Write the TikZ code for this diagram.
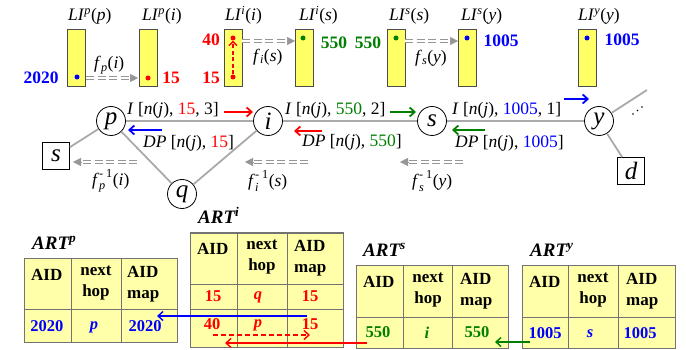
\documentclass[tikz,border=0pt]{standalone}
\usepackage{fontspec}
\setmainfont{Liberation Serif}
\usetikzlibrary{arrows.meta}
\definecolor{barY}{RGB}{255,255,102}
\definecolor{tabY}{RGB}{255,255,170}
\definecolor{myred}{RGB}{255,0,0}
\definecolor{mygreen}{RGB}{0,128,0}
\definecolor{myblue}{RGB}{0,0,255}
\definecolor{edgegray}{RGB}{170,170,170}
\definecolor{dgray}{RGB}{150,150,150}
\newcommand{\LIlab}[2]{\textit{LI}\textsuperscript{\textit{#1}}(\textit{#2})}
\newcommand{\flab}[2]{\textit{f}\textsubscript{\textit{#1}}(\textit{#2})}
\newcommand{\finv}[2]{\textit{f}\rlap{\raisebox{-2pt}{\textsubscript{\textit{#1}}}}\raisebox{1.5pt}{\textsuperscript{- 1}}(\textit{#2})}
\newcommand{\nj}{[\textit{n}(\textit{j}),}
\tikzset{
 bar/.style={draw=black!70, fill=barY, minimum width=18pt, minimum height=57pt, inner sep=0pt, line width=0.8pt},
 dotc/.style={circle, inner sep=0pt, minimum size=5pt},
 lbl/.style={font=\fontsize{17.5}{19}\selectfont, inner sep=0pt},
 num/.style={font=\bfseries\fontsize{17.5}{20}\selectfont, inner sep=0pt},
 vtx/.style={circle, draw, line width=0.8pt, minimum size=29pt, inner sep=0pt, font=\itshape\fontsize{25}{26}\selectfont, fill=white},
 sqr/.style={draw, line width=0.8pt, minimum size=27pt, inner sep=0pt, font=\itshape\fontsize{25}{26}\selectfont, fill=white},
 edge/.style={draw=edgegray, line width=1.8pt},
 msg/.style={line width=1.8pt, -{Straight Barb[length=5pt,width=9pt]}},
 gd/.style={draw=dgray, line width=1.1pt, dash pattern=on 8pt off 3.5pt, double=white, double distance=1.6pt},
 gtip/.style={draw=dgray, line width=0.5pt, -{Triangle[length=8pt,width=8pt]}},
 tab/.style={draw=black!55, fill=tabY, line width=1pt},
 tabl/.style={draw=black!55, line width=1pt},
 th/.style={font=\bfseries\fontsize{17}{21}\selectfont, inner sep=0pt},
 td/.style={font=\bfseries\fontsize{16.5}{18}\selectfont, inner sep=0pt},
 tdi/.style={font=\bfseries\itshape\fontsize{16.5}{18}\selectfont, inner sep=0pt},
 tlab/.style={font=\bfseries\itshape\fontsize{19}{20}\selectfont, inner sep=0pt, anchor=base west},
 tarr/.style={line width=1.4pt, -{Straight Barb[length=5pt,width=9pt]}}
}
\begin{document}
\begin{tikzpicture}[x=1pt,y=-1pt]
\useasboundingbox (0,0) rectangle (686,350);

% ---------- top bars ----------
\node[bar] (b1) at (76.5,57.5) {};
\node[bar] (b2) at (148,57.5) {};
\node[bar] (b3) at (233,57.5) {};
\node[bar] (b4) at (304,57.5) {};
\node[bar] (b5) at (396,57.5) {};
\node[bar] (b6) at (467,57.5) {};
\node[bar] (b7) at (587,57.5) {};

\node[lbl, anchor=base west] (l1) at (68,21) {\LIlab{p}{p}};
\node[lbl, anchor=base west] (l2) at (142,21) {\LIlab{p}{i}};
\node[lbl, anchor=base west] (l3) at (225,21) {\LIlab{i}{i}};
\node[lbl, anchor=base west] (l4) at (299,21) {\LIlab{i}{s}};
\node[lbl, anchor=base west] (l5) at (389,21) {\LIlab{s}{s}};
\node[lbl, anchor=base west] (l6) at (461,21) {\LIlab{s}{y}};
\node[lbl, anchor=base west] (l7) at (578,21) {\LIlab{y}{y}};

\node[dotc, fill=myblue] (d1) at (77,77) {};
\node[dotc, fill=myred] (d2) at (148,78) {};
\node[dotc, fill=myred] (d3a) at (233,38) {};
\node[dotc, fill=myred] (d3b) at (233,77) {};
\node[dotc, fill=mygreen] (d4) at (303,38) {};
\node[dotc, fill=mygreen] (d5) at (396,38) {};
\node[dotc, fill=myblue] (d6) at (467,38) {};
\node[dotc, fill=myblue] (d7) at (587,38) {};

\node[num, text=myblue] (n1) at (41,78) {2020};
\node[num, text=myred] (n2) at (171,78) {15};
\node[num, text=myred] (n3a) at (211,40) {40};
\node[num, text=myred] (n3b) at (211,78) {15};
\node[num, text=mygreen] (n4) at (334,43) {550};
\node[num, text=mygreen] (n5) at (368,43) {550};
\node[num, text=myblue] (n6) at (501,41) {1005};
\node[num, text=myblue] (n7) at (622,40) {1005};

\draw[myred, line width=1.4pt, dash pattern=on 4pt off 2.5pt, -{Straight Barb[length=4pt,width=8pt]}] (d3b) -- (d3a);

% gray double dashed arrows (top)
\coordinate (g1a) at (86,78); \coordinate (g1b) at (138,78);
\coordinate (g2a) at (242,41); \coordinate (g2b) at (295,41);
\coordinate (g3a) at (405,41); \coordinate (g3b) at (458,41);
\draw[gd] (g1a) -- ([xshift=-7pt]g1b);
\draw[gtip] ([xshift=-8.5pt]g1b) -- (g1b);
\draw[gd] (g2a) -- ([xshift=-7pt]g2b);
\draw[gtip] ([xshift=-8.5pt]g2b) -- (g2b);
\draw[gd] (g3a) -- ([xshift=-7pt]g3b);
\draw[gtip] ([xshift=-8.5pt]g3b) -- (g3b);
\node[lbl, anchor=west] (f1) at (94,65) {\flab{p}{i}};
\node[lbl, anchor=west] (f2) at (253,57) {\flab{i}{s}};
\node[lbl, anchor=west] (f3) at (415,58) {\flab{s}{y}};

% ---------- graph ----------
\coordinate (ur) at (647,90);
\node[vtx] (p) at (111,121) {p};
\node[vtx] (i) at (268,121) {i};
\node[vtx] (s) at (432,121) {s};
\node[vtx] (y) at (599,121) {y};
\node[vtx] (q) at (182,194) {q};
\node[sqr] (src) at (56,156) {s};
\node[sqr] (d) at (631,171) {d};
\draw[edge] (src) -- (p);
\draw[edge] (p) -- (i);
\draw[edge] (i) -- (s);
\draw[edge] (s) -- (y);
\draw[edge] (p) -- (q);
\draw[edge] (q) -- (i);
\draw[edge] (y) -- (d);
\draw[edge] (y) -- (ur);
\fill (633,114) circle (0.9pt) (637.5,110.5) circle (0.9pt) (642,107) circle (0.9pt);

% message labels
\node[lbl, anchor=west] (m1) at (127,110) {\textit{I} \nj{} \textcolor{myred}{15}, 3]};
\node[lbl, anchor=west] (m2) at (143,143) {\textit{DP} \nj{} \textcolor{myred}{15}]};
\node[lbl, anchor=west] (m3) at (285,110) {\textit{I} \nj{} \textcolor{mygreen}{550}, 2]};
\node[lbl, anchor=west] (m4) at (302,142) {\textit{DP} \nj{} \textcolor{mygreen}{550}]};
\node[lbl, anchor=west] (m5) at (452,110) {\textit{I} \nj{} \textcolor{myblue}{1005}, 1]};
\node[lbl, anchor=west] (m6) at (455,143) {\textit{DP} \nj{} \textcolor{myblue}{1005}]};

\coordinate (r1a) at (224,112); \coordinate (r1b) at (253,112);
\coordinate (u1a) at (162,130); \coordinate (u1b) at (128,130);
\coordinate (e1a) at (390,112); \coordinate (e1b) at (416,112);
\coordinate (r2a) at (322,131); \coordinate (r2b) at (294,131);
\coordinate (u2a) at (564,99); \coordinate (u2b) at (589,99);
\coordinate (e2a) at (485,130); \coordinate (e2b) at (452,130);
\draw[msg, myred] (r1a) -- (r1b);
\draw[msg, myblue] (u1a) -- (u1b);
\draw[msg, mygreen] (e1a) -- (e1b);
\draw[msg, myred] (r2a) -- (r2b);
\draw[msg, myblue] (u2a) -- (u2b);
\draw[msg, mygreen] (e2a) -- (e2b);

% gray inverse arrows
\coordinate (h1a) at (137,162); \coordinate (h1b) at (73,162);
\coordinate (h2a) at (308,162); \coordinate (h2b) at (245,162);
\coordinate (h3a) at (463,162); \coordinate (h3b) at (400,162);
\draw[gd] (h1a) -- ([xshift=7pt]h1b);
\draw[gtip] ([xshift=8.5pt]h1b) -- (h1b);
\draw[gd] (h2a) -- ([xshift=7pt]h2b);
\draw[gtip] ([xshift=8.5pt]h2b) -- (h2b);
\draw[gd] (h3a) -- ([xshift=7pt]h3b);
\draw[gtip] ([xshift=8.5pt]h3b) -- (h3b);
\node[lbl, anchor=west] (fi1) at (92,181) {\finv{p}{i}};
\node[lbl, anchor=west] (fi2) at (248,181) {\finv{i}{s}};
\node[lbl, anchor=west] (fi3) at (412,181) {\finv{s}{y}};

% ---------- tables ----------
% ART^p
\node[tlab] (tp) at (32,249) {ART\textsuperscript{\textit{p}}};
\draw[tab] (24,258) rectangle (177,342);
\draw[tabl] (71,258) -- (71,342) (121,258) -- (121,342) (24,309) -- (177,309);
\node[th, anchor=west] (tp1) at (31,275) {AID};
\node[th, align=center, anchor=north] (tp2) at (96,266) {next\\hop};
\node[th, align=left, anchor=north west] (tp3) at (127,266) {AID\\map};
\node[td, text=myblue] (tp4) at (47,326) {2020};
\node[tdi, text=myblue] (tp5) at (94,327) {p};
\node[td, text=myblue] (tp6) at (145,326) {2020};

% ART^i
\node[tlab] (ti) at (198,223) {ART\textsuperscript{\textit{i}}};
\draw[tab] (190,233) rectangle (343,347);
\draw[tabl] (237,233) -- (237,347) (287,233) -- (287,347) (190,284) -- (343,284) (190,309) -- (343,309);
\node[th, anchor=west] (ti1) at (197,249) {AID};
\node[th, align=center, anchor=north] (ti2) at (262,240) {next\\hop};
\node[th, align=left, anchor=north west] (ti3) at (294,240) {AID\\map};
\node[td, text=myred] (ti4) at (213,296) {15};
\node[tdi, text=myred] (ti5) at (258,297) {q};
\node[td, text=myred] (ti6) at (310,296) {15};
\node[td, text=myred] (ti7) at (212,324) {40};
\node[tdi, text=myred] (ti8) at (258,325) {p};
\node[td, text=myred] (ti9) at (310,324) {15};

% ART^s
\node[tlab] (ts) at (363,256) {ART\textsuperscript{\textit{s}}};
\draw[tab] (356,265) rectangle (508,348);
\draw[tabl] (403,265) -- (403,348) (452,265) -- (452,348) (356,317) -- (508,317);
\node[th, anchor=west] (ts1) at (363,282) {AID};
\node[th, align=center, anchor=north] (ts2) at (428,273) {next\\hop};
\node[th, align=left, anchor=north west] (ts3) at (460,273) {AID\\map};
\node[td, text=mygreen] (ts4) at (378,332) {550};
\node[tdi, text=mygreen] (ts5) at (427,333) {i};
\node[td, text=mygreen] (ts6) at (477,332) {550};

% ART^y
\node[tlab] (ty) at (530,256) {ART\textsuperscript{\textit{y}}};
\draw[tab] (522,265) rectangle (675,348);
\draw[tabl] (568,265) -- (568,348) (618,265) -- (618,348) (522,317) -- (675,317);
\node[th, anchor=west] (ty1) at (529,282) {AID};
\node[th, align=center, anchor=north] (ty2) at (593,273) {next\\hop};
\node[th, align=left, anchor=north west] (ty3) at (626,273) {AID\\map};
\node[td, text=myblue] (ty4) at (545,333) {1005};
\node[tdi, text=myblue] (ty5) at (590,334) {s};
\node[td, text=myblue] (ty6) at (640,333) {1005};

% table arrows
\coordinate (ta1) at (307,316); \coordinate (ta2) at (157,316);
\coordinate (tb1) at (213,335); \coordinate (tb2) at (310,335);
\coordinate (tc1) at (367,343); \coordinate (tc2) at (225,343);
\coordinate (td1) at (530,342); \coordinate (td2) at (495,342);
\draw[tarr, myblue] (ta1) -- (ta2);
\draw[tarr, myred, dash pattern=on 5pt off 3pt] (tb1) -- (tb2);
\draw[tarr, myred] (tc1) -- (tc2);
\draw[tarr, mygreen] (td1) -- (td2);
\end{tikzpicture}
\end{document}
